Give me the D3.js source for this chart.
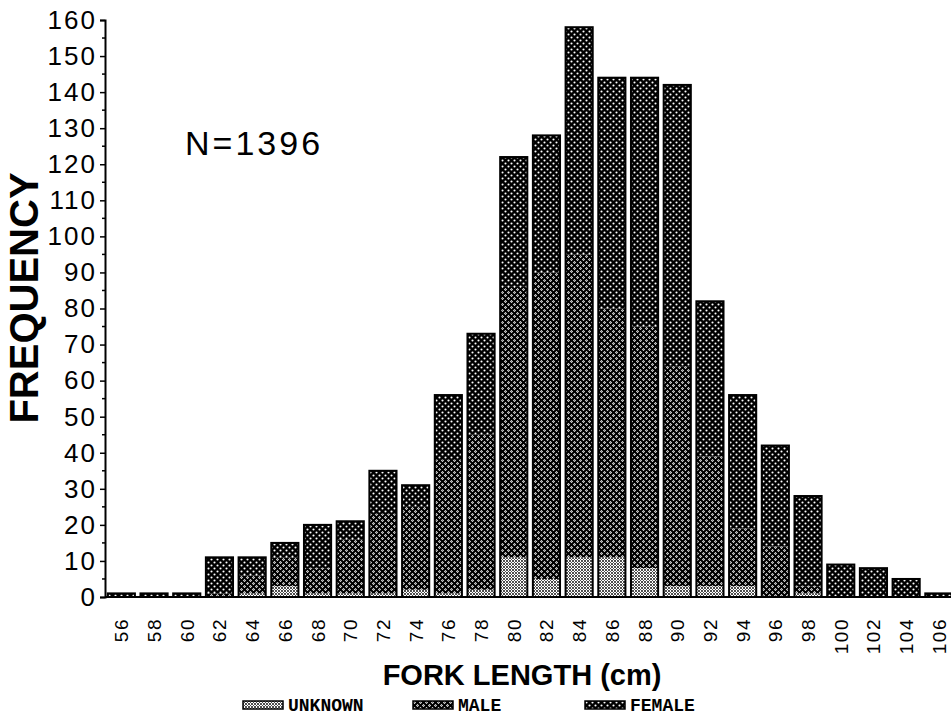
<!DOCTYPE html>
<html>
<head>
<meta charset="utf-8">
<script src="https://cdn.jsdelivr.net/npm/d3@7"></script>
<style>
  body { margin: 0; background: #fff; }
  svg { display: block; }
</style>
</head>
<body>
<div id="chart"></div>
<script>
// fork length classes (cm)
const lengths = ["56","58","60","62","64","66","68","70","72","74","76","78","80",
  "82","84","86","88","90","92","94","96","98","100","102","104","106"];

// counts per class
const unknown = [0,0,0,0,1,3,1,1,1,2,1,2,11,5,11,11,8,3,3,3,0,1,0,0,0,0];
const male    = [0,0,0,1,5,8,7,15,22,23,37,43,75,85,84,69,67,61,36,16,14,2,0,0,0,0];
const female  = [1,1,1,10,5,4,12,5,12,6,18,28,36,38,63,64,69,78,43,37,28,25,9,8,5,1];

const yTicks = d3.range(0, 161, 10);
const groups = ["unknown", "male", "female"];
const groupLabels = ["UNKNOWN", "MALE", "FEMALE"];

const W = 951, H = 718;
const margin = {top: 20, left: 105, bottom: 121};

const svg = d3.select("#chart").append("svg")
  .attr("width", W)
  .attr("height", H);

// fill patterns (scanned black & white look)
const defs = svg.append("defs");

let pf = defs.append("pattern").attr("id", "pat-female")
  .attr("patternUnits", "userSpaceOnUse").attr("width", 6).attr("height", 6);
pf.append("rect").attr("width", 6).attr("height", 6).attr("fill", "#000");
pf.append("circle").attr("cx", 1.5).attr("cy", 1.5).attr("r", 1.05).attr("fill", "#fff");
pf.append("circle").attr("cx", 4.5).attr("cy", 4.5).attr("r", 1.05).attr("fill", "#fff");

let pm = defs.append("pattern").attr("id", "pat-male")
  .attr("patternUnits", "userSpaceOnUse").attr("width", 6).attr("height", 6);
pm.append("rect").attr("width", 6).attr("height", 6).attr("fill", "#000");
pm.append("path").attr("d", "M0,1.5L1.5,0L3,1.5L1.5,3ZM3,4.5L4.5,3L6,4.5L4.5,6Z").attr("fill", "#fff");
pm.append("circle").attr("cx", 1.5).attr("cy", 1.5).attr("r", 0.45).attr("fill", "#000");
pm.append("circle").attr("cx", 4.5).attr("cy", 4.5).attr("r", 0.45).attr("fill", "#000");

let pu = defs.append("pattern").attr("id", "pat-unknown")
  .attr("patternUnits", "userSpaceOnUse").attr("width", 6).attr("height", 6);
pu.append("rect").attr("width", 6).attr("height", 6).attr("fill", "#fff");
pu.append("path").attr("d", "M0,0L6,6M6,0L0,6").attr("stroke", "#000").attr("stroke-width", 0.7);
pu.append("circle").attr("cx", 3).attr("cy", 0).attr("r", 0.9).attr("fill", "#000");
pu.append("circle").attr("cx", 0).attr("cy", 3).attr("r", 0.9).attr("fill", "#000");
pu.append("circle").attr("cx", 6).attr("cy", 3).attr("r", 0.9).attr("fill", "#000");
pu.append("circle").attr("cx", 3).attr("cy", 6).attr("r", 0.9).attr("fill", "#000");

const fills = {unknown: "url(#pat-unknown)", male: "url(#pat-male)", female: "url(#pat-female)"};

// scales
const x = d3.scaleBand()
  .domain(lengths)
  .range([margin.left, margin.left + lengths.length * 32.7])
  .paddingInner(0.17)
  .paddingOuter(0.085);

const y = d3.scaleLinear()
  .domain([0, 160])
  .range([H - margin.bottom, margin.top]);

// stack data
const table = lengths.map((l, i) => ({len: l, unknown: unknown[i], male: male[i], female: female[i]}));
const series = d3.stack().keys(groups)(table);

const bars = svg.append("g");
series.forEach(s => {
  bars.selectAll(null)
    .data(s)
    .join("rect")
    .attr("x", d => x(d.data.len))
    .attr("width", x.bandwidth())
    .attr("y", d => y(d[1]))
    .attr("height", d => y(d[0]) - y(d[1]))
    .attr("fill", fills[s.key]);
});

// bar outlines
bars.selectAll(null)
  .data(table)
  .join("rect")
  .attr("x", d => x(d.len))
  .attr("width", x.bandwidth())
  .attr("y", d => y(d.unknown + d.male + d.female))
  .attr("height", d => y(0) - y(d.unknown + d.male + d.female))
  .attr("fill", "none")
  .attr("stroke", "#000")
  .attr("stroke-width", 2);

// y axis
const yAxis = svg.append("g")
  .attr("transform", "translate(" + margin.left + ",0)")
  .call(d3.axisLeft(y).tickValues(yTicks).tickSize(5).tickPadding(3));
yAxis.select(".domain").attr("stroke-width", 2);
yAxis.selectAll(".tick line").attr("stroke-width", 1.5);
yAxis.selectAll("text")
  .attr("font-family", "Liberation Sans, Arial, sans-serif")
  .attr("font-size", 26)
  .attr("letter-spacing", 2)
  .attr("fill", "#000");

// minor ticks
svg.append("g").selectAll("line")
  .data(d3.range(5, 160, 10))
  .join("line")
  .attr("x1", margin.left - 3)
  .attr("x2", margin.left)
  .attr("y1", d => y(d))
  .attr("y2", d => y(d))
  .attr("stroke", "#000")
  .attr("stroke-width", 1.5);

// x axis baseline
svg.append("line")
  .attr("x1", margin.left)
  .attr("x2", W)
  .attr("y1", y(0))
  .attr("y2", y(0))
  .attr("stroke", "#000")
  .attr("stroke-width", 2);

// x tick labels (rotated)
svg.append("g").selectAll("text")
  .data(lengths)
  .join("text")
  .attr("transform", d => "translate(" + (x(d) + x.bandwidth() / 2 + 7) + "," + (y(0) + 21) + ") rotate(-90)")
  .attr("text-anchor", "end")
  .attr("font-family", "Liberation Sans, Arial, sans-serif")
  .attr("font-size", 19)
  .attr("letter-spacing", 1.5)
  .text(d => d);

// axis titles
svg.append("text")
  .attr("transform", "translate(38,298) rotate(-90)")
  .attr("text-anchor", "middle")
  .attr("font-family", "Liberation Sans, Arial, sans-serif")
  .attr("font-weight", "bold")
  .attr("font-size", 40)
  .text("FREQUENCY");

svg.append("text")
  .attr("x", 522)
  .attr("y", 685)
  .attr("text-anchor", "middle")
  .attr("font-family", "Liberation Sans, Arial, sans-serif")
  .attr("font-weight", "bold")
  .attr("font-size", 29)
  .text("FORK LENGTH (cm)");

// sample size
svg.append("text")
  .attr("x", 185)
  .attr("y", 155)
  .attr("font-family", "Liberation Sans, Arial, sans-serif")
  .attr("font-size", 34)
  .attr("letter-spacing", 3)
  .text("N=1396");

// legend
const legendX = [243, 413, 585];
const legend = svg.append("g").selectAll("g")
  .data(groups)
  .join("g")
  .attr("transform", (d, i) => "translate(" + legendX[i] + ",701)");
legend.append("rect")
  .attr("width", 40)
  .attr("height", 8)
  .attr("fill", d => fills[d])
  .attr("stroke", "#000")
  .attr("stroke-width", 1.5);
legend.append("text")
  .attr("x", 45)
  .attr("y", 10)
  .attr("font-family", "Liberation Mono, monospace")
  .attr("font-weight", "bold")
  .attr("font-size", 18)
  .text((d, i) => groupLabels[i]);
</script>
</body>
</html>
